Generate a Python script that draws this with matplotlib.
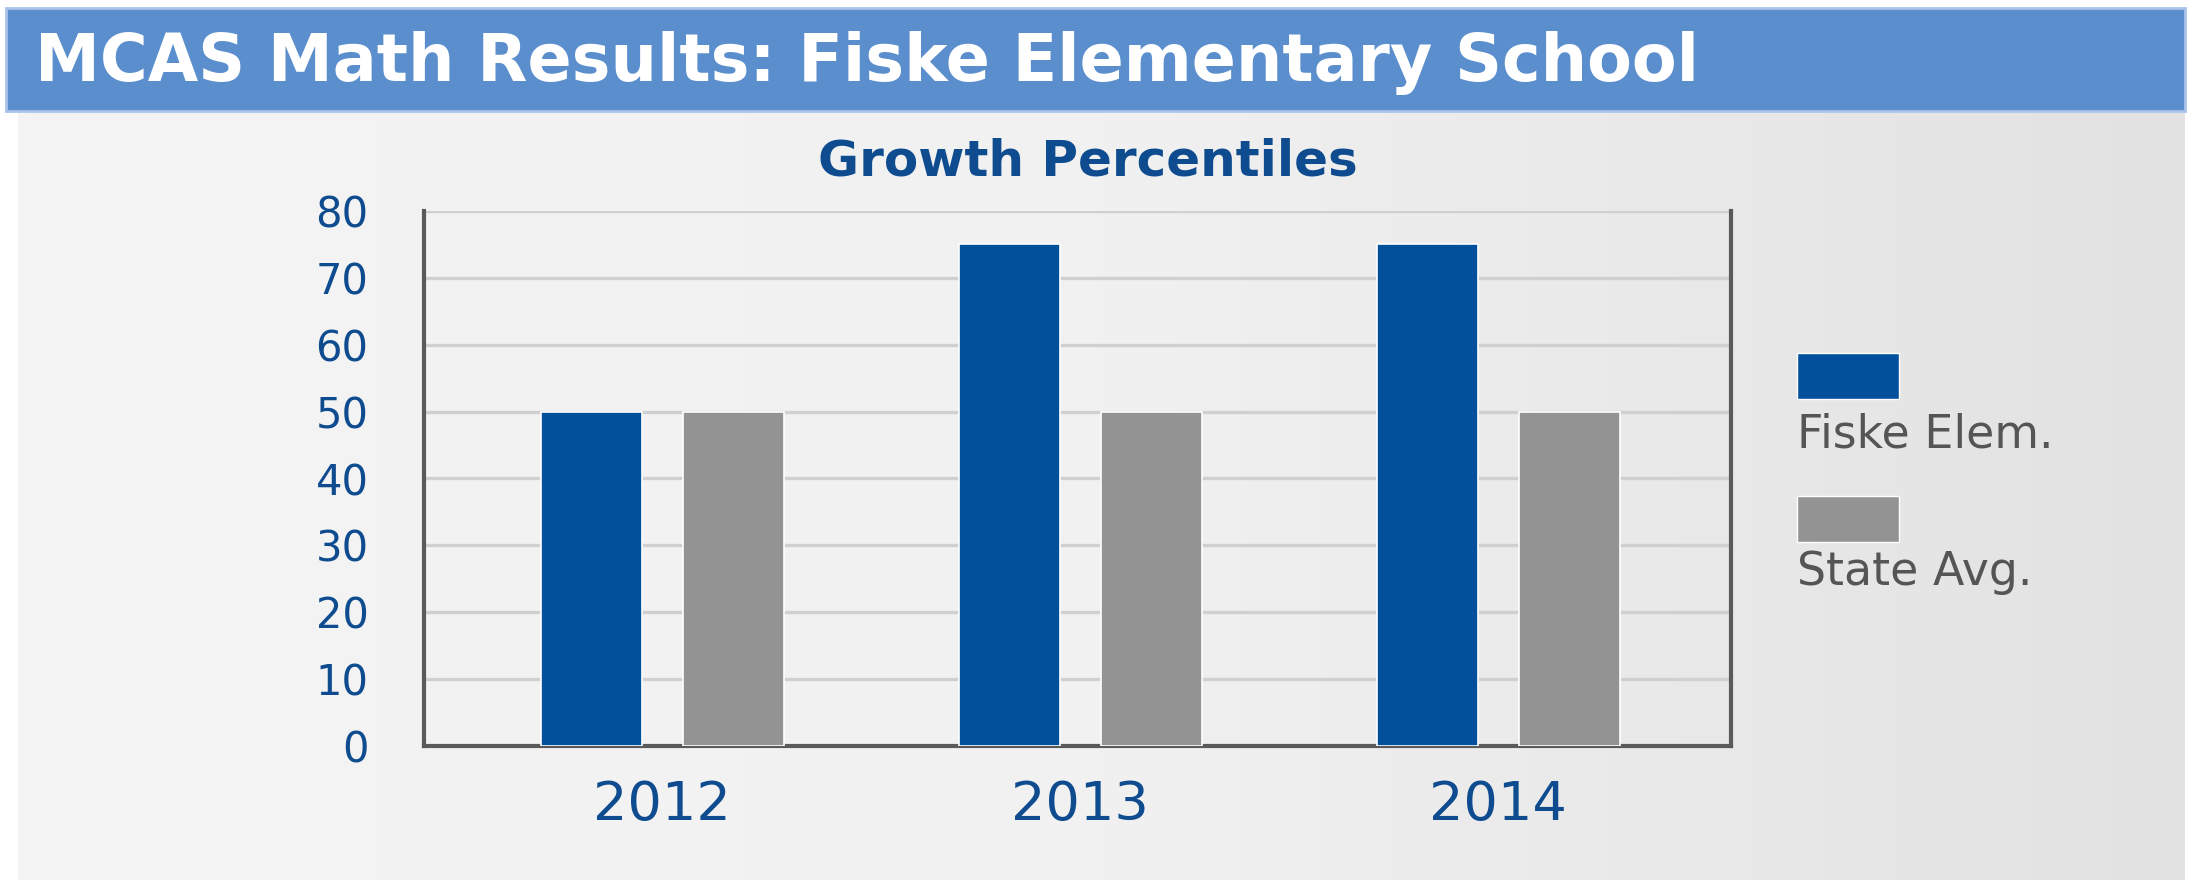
import numpy as np
import matplotlib.pyplot as plt
from matplotlib.patches import Rectangle

# data
years = ["2012", "2013", "2014"]
fiske = [50, 75, 75]
state = [50, 50, 50]
series_names = ["Fiske Elem.", "State Avg."]
y_ticks = [0, 10, 20, 30, 40, 50, 60, 70, 80]

W, H = 2196, 880
blue = "#02509c"
grey = "#939393"
label_blue = "#0f4c8f"

fig = plt.figure(figsize=(W / 100, H / 100), dpi=100)
fig.patch.set_facecolor("white")

# background panel with a soft left-to-right gradient
bg = fig.add_axes([0, 0, 1, 1])
bg.set_xlim(0, W)
bg.set_ylim(H, 0)
bg.axis("off")
grad = np.linspace(0, 1, 256).reshape(1, -1)
bg.imshow(grad, cmap=plt.matplotlib.colors.LinearSegmentedColormap.from_list(
    "panel", ["#f4f4f4", "#f1f1f1", "#e2e2e2"]),
    extent=[18, 2185, H, 113], aspect="auto", zorder=0)

# title bar
bg.add_patch(Rectangle((6, 8), 2179, 103, facecolor="#5b8ecd",
                       edgecolor="#a9c4e8", linewidth=2, zorder=1))
bg.text(35, 81, "MCAS Math Results: Fiske Elementary School", color="white",
        fontsize=47, fontweight="bold", family="DejaVu Sans",
        va="baseline", ha="left", zorder=2)

# subtitle
bg.text(1088, 175, "Growth Percentiles", color=label_blue, fontsize=36,
        fontweight="bold", family="DejaVu Sans", va="baseline", ha="center")

# main chart
ax = fig.add_axes([424 / W, (H - 746) / H, (1731 - 424) / W, (746 - 211) / H])
ax.set_facecolor("none")
x = np.arange(len(years))
bw = 0.242
off = 0.17
ax.bar(x - off, fiske, bw, color=blue, edgecolor="white", linewidth=1.2, zorder=3)
ax.bar(x + off, state, bw, color=grey, edgecolor="white", linewidth=1.2, zorder=3)

ax.set_xlim(-0.57, 2.557)
ax.set_ylim(0, 80)
ax.set_yticks(y_ticks)
ax.set_xticks(x)
ax.set_xticklabels(years)
ax.yaxis.grid(True, color="#d0d0d0", linewidth=2.4, zorder=0)
ax.set_axisbelow(True)

for side in ["left", "right", "bottom"]:
    ax.spines[side].set_color("#5a5a5a")
    ax.spines[side].set_linewidth(3)
ax.spines["top"].set_visible(False)

ax.tick_params(axis="both", length=0)
ax.tick_params(axis="y", pad=40, labelsize=30, labelcolor=label_blue)
ax.tick_params(axis="x", pad=24, labelsize=39, labelcolor=label_blue)
for lab in ax.get_xticklabels() + ax.get_yticklabels():
    lab.set_family("DejaVu Sans")

# legend drawn by hand: patch above its label
for name, col, top, base in [(series_names[0], blue, 353, 448),
                             (series_names[1], grey, 496, 585)]:
    bg.add_patch(Rectangle((1797, top), 102, 46, facecolor=col,
                           edgecolor="white", linewidth=1, zorder=3))
    bg.text(1797, base, name, color="#555555", fontsize=33,
            family="DejaVu Sans", va="baseline", ha="left", zorder=3)

fig.savefig("out.png", dpi=100)
